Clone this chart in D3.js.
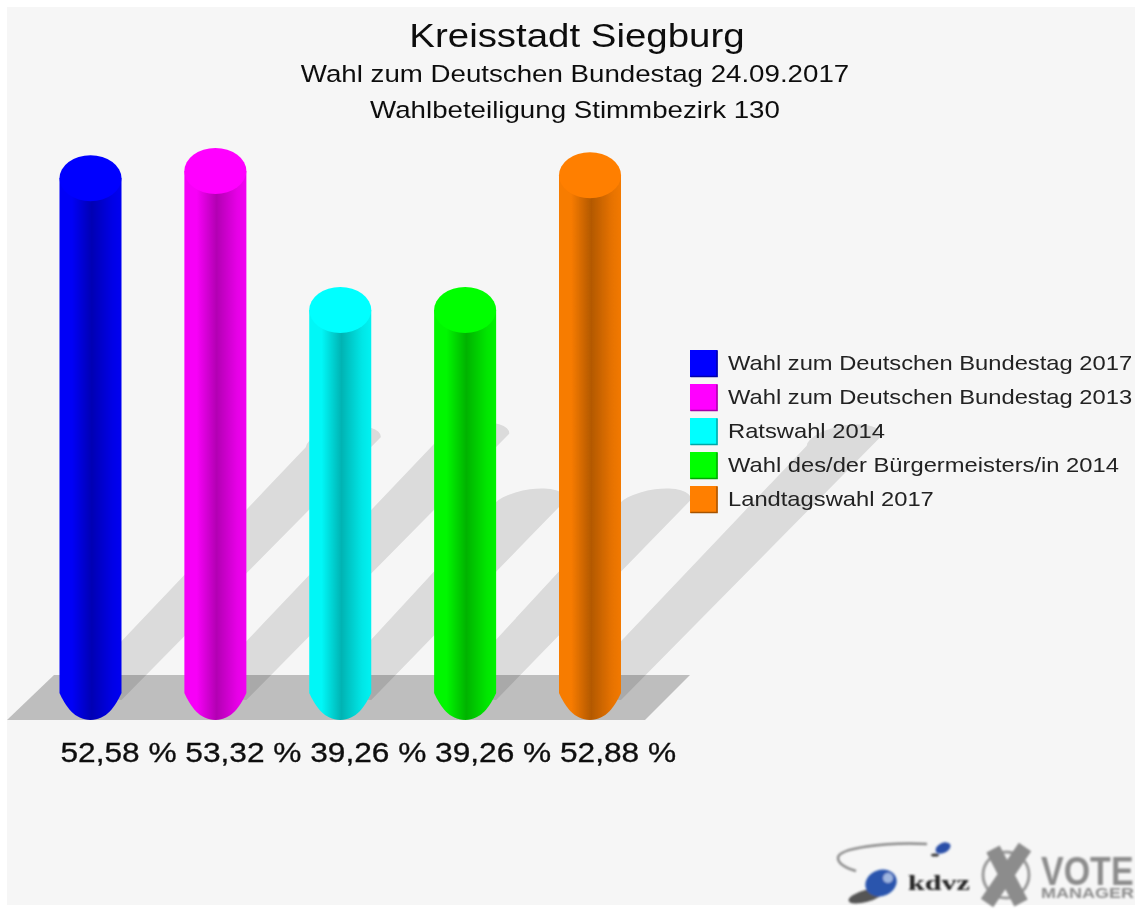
<!DOCTYPE html>
<html><head><meta charset="utf-8">
<script src="https://cdn.jsdelivr.net/npm/d3@7/dist/d3.min.js"></script>
<style>html,body{margin:0;padding:0;background:#fff}svg{display:block}text{font-family:"Liberation Sans",Arial,sans-serif}</style>
</head><body><svg id="c" width="1135" height="909"></svg>
<script>
const categories=["Wahl zum Deutschen Bundestag 2017","Wahl zum Deutschen Bundestag 2013","Ratswahl 2014","Wahl des/der Bürgermeisters/in 2014","Landtagswahl 2017"];
const values=[52.58,53.32,39.26,39.26,52.88];
const valueLabels=["52,58 %","53,32 %","39,26 %","39,26 %","52,88 %"];
const colors=["#0000ff","#ff00ff","#00ffff","#00ff00","#ff7f00"];
const titles=["Kreisstadt Siegburg","Wahl zum Deutschen Bundestag 24.09.2017","Wahlbeteiligung Stimmbezirk 130"];

const W=1135,H=909;
const stretch=1.13;
const svg=d3.select("#c");
const defs=svg.append("defs");
defs.append("filter").attr("id","soft").attr("x","-5%").attr("y","-5%").attr("width","110%").attr("height","110%")
  .append("feGaussianBlur").attr("stdDeviation",0.65);
defs.append("filter").attr("id","softer").attr("x","-20%").attr("y","-20%").attr("width","140%").attr("height","140%")
  .append("feGaussianBlur").attr("stdDeviation",1.0);

// widen real text horizontally, the way the reference is stretched
function widen(sel,f){sel.each(function(){const n=this;const l=n.getComputedTextLength();
  n.setAttribute("textLength",(l*(f||stretch)).toFixed(1));n.setAttribute("lengthAdjust","spacingAndGlyphs");});}

svg.append("rect").attr("x",7).attr("y",7).attr("width",W-7).attr("height",H-11).attr("fill","#f6f6f6");

const x=d3.scalePoint().domain(categories).range([90.5,590]);
const y=d3.scaleLinear().domain([0,53.32]).range([675,148]);
const rx=31, ry=23, base=y(0)+22;

categories.forEach((c,i)=>{
  const col=d3.rgb(colors[i]);
  const f=a=>d3.rgb(col.r*a,col.g*a,col.b*a);
  const g=defs.append("linearGradient").attr("id","g"+i).attr("x1",0).attr("x2",1).attr("y1",0).attr("y2",0);
  [[0,f(.97)],[.2,f(.97)],[.52,f(.70)],[.85,f(.90)],[1,f(.95)]].forEach(s=>g.append("stop").attr("offset",s[0]).attr("stop-color",s[1]));
});

const root=svg.append("g").attr("filter","url(#soft)");

// floor
root.append("path").attr("fill","#bebebe")
  .attr("d",d3.line()([[7,y(0)+45],[645,y(0)+45],[690,y(0)],[54,y(0)]])+"Z");

// shadows
const k=0.475;
root.append("g").selectAll("path").data(categories).join("path")
  .attr("fill","#000").attr("fill-opacity",.11)
  .attr("d",c=>{
    const i=categories.indexOf(c), v=values[i];
    const rise=(y(0)-y(v))*k;
    const bx=x(c)+7, tx=bx+rise*1.03, ty=base-rise;
    return `M${bx-29},${base} L${tx-46},${ty-3} A38,15 -10 0 1 ${tx+29},${ty-13} L${bx+24},${base+3} Z`;
  });

// cylinders
const bars=root.append("g").selectAll("g").data(categories).join("g");
bars.append("path").attr("fill",(c,i)=>`url(#g${i})`)
  .attr("d",c=>{
    const v=values[categories.indexOf(c)],cx=x(c),t=y(v)+ry,e=base-4,tip=base+ry;
    return `M${cx-rx},${t} L${cx-rx},${e} C${cx-rx+6},${e+13} ${cx-16},${tip} ${cx},${tip} C${cx+16},${tip} ${cx+rx-6},${e+13} ${cx+rx},${e} L${cx+rx},${t} Z`;
  });
bars.append("ellipse").attr("cx",c=>x(c)).attr("cy",c=>y(values[categories.indexOf(c)])+ry)
  .attr("rx",rx).attr("ry",ry).attr("fill",(c,i)=>colors[i]);

// value labels
root.append("g").selectAll("text").data(categories).join("text")
  .attr("x",c=>x(c)+28).attr("y",762).attr("text-anchor","middle")
  .attr("font-size",28).attr("fill","#111").attr("stroke","#111").attr("stroke-width",.35)
  .text((c,i)=>valueLabels[i]).call(widen);

// titles
const tSizes=[34,24.5,24.5], tY=[47,82,118];
root.append("g").selectAll("text").data(titles).join("text")
  .attr("x",(d,i)=>i?575:577).attr("y",(d,i)=>tY[i]).attr("text-anchor","middle")
  .attr("font-size",(d,i)=>tSizes[i]).attr("fill","#111").text(d=>d).call(widen);

// legend
const lg=root.append("g").selectAll("g").data(categories).join("g")
  .attr("transform",(c,i)=>`translate(690,${350+i*34})`);
lg.append("rect").attr("width",27.5).attr("height",27).attr("fill",(c,i)=>colors[i]);
lg.append("path").attr("fill","none").attr("stroke",(c,i)=>d3.rgb(colors[i]).darker(1.2)).attr("stroke-width",1.5)
  .attr("d","M27,0.5 V26.5 H0.5");
lg.append("text").attr("x",38).attr("y",20).attr("font-size",21).attr("fill","#222").text(c=>c).call(widen);

// logos
const logo=svg.append("g").attr("filter","url(#softer)");
logo.append("path").attr("fill","none").attr("stroke","#8a8a8a").attr("stroke-width",2.5)
  .attr("d","M927,844 C885,842 838,848 838,858 C838,864 846,868 856,871");
logo.append("ellipse").attr("cx",943).attr("cy",848).attr("rx",8).attr("ry",5).attr("transform","rotate(-25 943 848)").attr("fill","#2a4fa8");
logo.append("ellipse").attr("cx",935).attr("cy",855).attr("rx",4).attr("ry",1.5).attr("fill","#333");
logo.append("ellipse").attr("cx",866).attr("cy",896).attr("rx",18).attr("ry",6).attr("transform","rotate(-15 866 896)").attr("fill","#555");
logo.append("ellipse").attr("cx",881).attr("cy",883).attr("rx",16).attr("ry",13).attr("transform","rotate(-20 881 883)").attr("fill","#2a55ad");
logo.append("circle").attr("cx",888).attr("cy",878).attr("r",5).attr("fill","#9fb6e0");
logo.append("text").attr("x",908).attr("y",890).attr("font-size",21).attr("font-weight","bold").style("font-family","Liberation Serif").attr("fill","#222").text("kdvz").attr("textLength",62).attr("lengthAdjust","spacingAndGlyphs");
logo.append("circle").attr("cx",1006).attr("cy",875).attr("r",23).attr("fill","none").attr("stroke","#9a9a9a").attr("stroke-width",3);
logo.append("path").attr("fill","none").attr("stroke","#8c8c8c").attr("stroke-width",15)
  .attr("d","M993,849 L1021,903 M1025,847 L987,903");
logo.append("text").attr("transform","translate(1041,885) scale(1,1.2)").attr("font-size",34).attr("font-weight","bold").attr("fill","#8c8c8c").text("VOTE");
logo.append("text").attr("x",1041).attr("y",898).attr("font-size",15).attr("font-weight","bold").attr("fill","#8c8c8c").text("MANAGER").attr("textLength",93).attr("lengthAdjust","spacingAndGlyphs");
</script></body></html>
